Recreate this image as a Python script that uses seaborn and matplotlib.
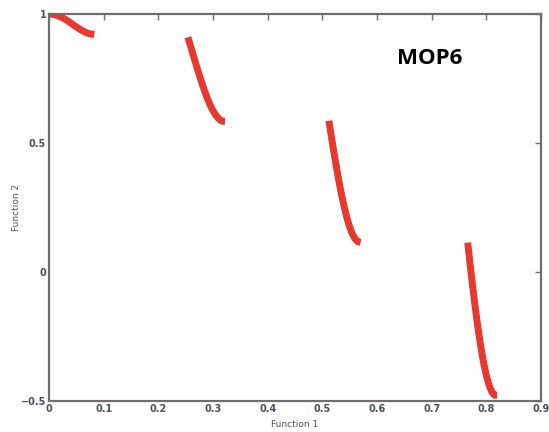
import numpy as np
import pandas as pd
import seaborn as sns
import matplotlib.pyplot as plt

# pareto front segments
seg1_x = [0.0, 0.005, 0.01, 0.015, 0.02, 0.025, 0.03, 0.035, 0.04, 0.045,
          0.05, 0.055, 0.06, 0.065, 0.07, 0.075, 0.083]
seg1_y = [1.0, 0.999, 0.997, 0.994, 0.990, 0.985, 0.979, 0.972, 0.965, 0.957,
          0.950, 0.943, 0.936, 0.931, 0.926, 0.923, 0.921]

seg2_x = [0.254, 0.26, 0.265, 0.27, 0.275, 0.28, 0.285, 0.29, 0.295, 0.30,
          0.305, 0.31, 0.315, 0.318, 0.322]
seg2_y = [0.910, 0.868, 0.832, 0.797, 0.763, 0.730, 0.699, 0.671, 0.646, 0.625,
          0.608, 0.595, 0.586, 0.584, 0.584]

seg3_x = [0.512, 0.515, 0.52, 0.525, 0.53, 0.535, 0.54, 0.545, 0.55, 0.555,
          0.56, 0.565, 0.57]
seg3_y = [0.586, 0.545, 0.479, 0.416, 0.356, 0.301, 0.252, 0.210, 0.174, 0.147,
          0.128, 0.117, 0.115]

seg4_x = [0.766, 0.77, 0.775, 0.78, 0.785, 0.79, 0.795, 0.80, 0.805, 0.81,
          0.815, 0.82]
seg4_y = [0.114, 0.036, -0.056, -0.142, -0.221, -0.291, -0.352, -0.401, -0.439,
          -0.464, -0.478, -0.478]

x_ticks = [0, 0.1, 0.2, 0.3, 0.4, 0.5, 0.6, 0.7, 0.8, 0.9]
y_ticks = [-0.5, 0, 0.5, 1]

rows = []
for i, (xs, ys) in enumerate([(seg1_x, seg1_y), (seg2_x, seg2_y),
                              (seg3_x, seg3_y), (seg4_x, seg4_y)]):
    for a, b in zip(xs, ys):
        rows.append({"f1": a, "f2": b, "seg": i})
df = pd.DataFrame(rows)

sns.set_style("white")
fig = plt.figure(figsize=(5.49, 4.32), dpi=100)
ax = fig.add_axes([0.0893, 0.0718, 0.8961, 0.8958])

sns.lineplot(data=df, x="f1", y="f2", units="seg", estimator=None, sort=False,
             color="#e8392e", linewidth=5, ax=ax, legend=False)
for line in ax.lines:
    line.set_solid_capstyle("butt")
    line.set_solid_joinstyle("round")

ax.set_xlim(0, 0.9)
ax.set_ylim(-0.5, 1)
ax.set_xticks(x_ticks)
ax.set_xticklabels(["0" if t == 0 else f"{t:g}" for t in x_ticks])
ax.set_yticks(y_ticks)
ax.set_yticklabels(["\u22120.5", "0", "0.5", "1"])

gray = "#6e6e6e"
for s in ax.spines.values():
    s.set_color(gray)
    s.set_linewidth(1.6)
ax.tick_params(direction="in", length=4, width=1, color=gray,
               top=True, right=True, labelsize=7, labelcolor="#4a4f5c", pad=2)
for lab in ax.get_xticklabels() + ax.get_yticklabels():
    lab.set_fontweight("bold")

ax.set_xlabel("Function 1", fontsize=6.5, color="#4a4f5c", va="center")
ax.set_ylabel("Function 2", fontsize=6.5, color="#4a4f5c", va="center")
ax.xaxis.set_label_coords(0.5, -0.062)
ax.yaxis.set_label_coords(-0.066, 0.5)

fig.text(430 / 549, 1 - 58 / 432, "MOP6", fontsize=16, fontweight="bold",
         color="black", ha="center", va="center",
         family=["Open Sans", "DejaVu Sans"])

fig.savefig("out.png", dpi=100)
